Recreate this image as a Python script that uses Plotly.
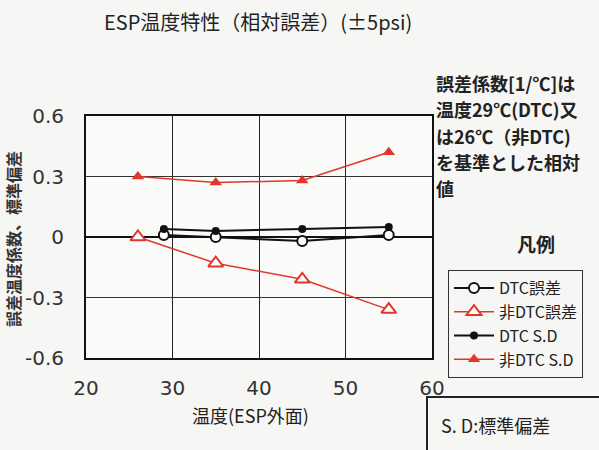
import plotly.graph_objects as go

# ---- data ----
x_dtc = [29, 35, 45, 55]
x_non = [26, 35, 45, 55]
dtc_err = [0.01, 0.00, -0.02, 0.01]
non_err = [0.00, -0.13, -0.21, -0.36]
dtc_sd = [0.04, 0.03, 0.04, 0.05]
non_sd = [0.30, 0.27, 0.28, 0.42]

x_ticks = [20, 30, 40, 50, 60]
y_ticks = [-0.6, -0.3, 0, 0.3, 0.6]
y_ticktext = ["-0.6", "-0.3", "0", "0.3", "0.6"]

names = ["DTC誤差", "非DTC誤差", "DTC S.D", "非DTC S.D"]
title_text = "ESP温度特性（相対誤差）(±5psi)"
xtitle = "温度(ESP外面)"
ytitle = "誤差温度係数、標準偏差"
note_lines = ["誤差係数[1/℃]は", "温度29℃(DTC)又", "は26℃（非DTC)", "を基準とした相対", "値"]
legend_title = "凡例"
sd_note = "S. D:標準偏差"

RED = "#e2362c"
JP = "Noto Sans CJK JP"

# plot area geometry (px)
L, R, T, B = 86, 432, 116, 358
W, H = 599, 450


def px(xp):
    return (xp - L) / (R - L)


def py(yp):
    return (B - yp) / (B - T)


fig = go.Figure()
fig.add_trace(go.Scatter(
    x=x_dtc, y=dtc_err, name=names[0], mode="lines+markers",
    line=dict(color="#111", width=2),
    marker=dict(symbol="circle", size=10, color="white",
                line=dict(color="#111", width=2))))
fig.add_trace(go.Scatter(
    x=x_non, y=non_err, name=names[1], mode="lines+markers",
    line=dict(color=RED, width=1.5),
    marker=dict(symbol="triangle-up", size=13, color="white",
                line=dict(color=RED, width=2))))
fig.add_trace(go.Scatter(
    x=x_dtc, y=dtc_sd, name=names[2], mode="lines+markers",
    line=dict(color="#111", width=2),
    marker=dict(symbol="circle", size=8, color="#111")))
fig.add_trace(go.Scatter(
    x=x_non, y=non_sd, name=names[3], mode="lines+markers",
    line=dict(color=RED, width=1.5),
    marker=dict(symbol="triangle-up", size=11, color=RED)))

ann = []
ann.append(dict(text=title_text, x=px(258), y=py(22), xref="paper", yref="paper",
                showarrow=False, font=dict(family=JP, size=20, color="#222"),
                xanchor="center", yanchor="middle"))
ann.append(dict(text=xtitle, x=px(250), y=py(415), xref="paper", yref="paper",
                showarrow=False, font=dict(family=JP, size=18, color="#222"),
                xanchor="center", yanchor="middle"))
ann.append(dict(text="<b>" + ytitle + "</b>", x=px(13), y=py(239), xref="paper", yref="paper",
                showarrow=False, textangle=-90, font=dict(family=JP, size=16, color="#333"),
                xanchor="center", yanchor="middle"))
line_y = [83, 109, 136, 162, 188]
for t, yy in zip(note_lines, line_y):
    ann.append(dict(text="<b>" + t + "</b>", x=px(434), y=py(yy), xref="paper", yref="paper",
                    showarrow=False, font=dict(family=JP, size=18, color="#222"),
                    xanchor="left", yanchor="middle"))
ann.append(dict(text="<b>" + legend_title + "</b>", x=px(536), y=py(243), xref="paper", yref="paper",
                showarrow=False, font=dict(family=JP, size=19, color="#222"),
                xanchor="center", yanchor="middle"))
ann.append(dict(text=sd_note, x=px(495), y=py(425), xref="paper", yref="paper",
                showarrow=False, font=dict(family=JP, size=18, color="#222"),
                xanchor="center", yanchor="middle"))

shapes = [dict(type="rect", xref="paper", yref="paper",
               x0=px(427), x1=px(640), y0=py(397), y1=py(480),
               line=dict(color="#222", width=2), fillcolor="rgba(0,0,0,0)")]

fig.update_layout(
    width=W, height=H,
    margin=dict(l=L, r=W - R, t=T, b=H - B),
    paper_bgcolor="#f6f6f4", plot_bgcolor="#fafaf9",
    showlegend=True,
    legend=dict(x=px(448), y=py(270), xanchor="left", yanchor="top",
                bordercolor="#333", borderwidth=1, bgcolor="rgba(0,0,0,0)",
                font=dict(family=JP, size=16, color="#222"),
                itemwidth=40, tracegroupgap=0),
    annotations=ann, shapes=shapes,
    xaxis=dict(range=[20, 60], tickvals=x_ticks, showgrid=True, gridcolor="#222", gridwidth=1,
               showline=True, linecolor="#111", linewidth=2, mirror=True, zeroline=False,
               ticks="", ticklabelstandoff=11,
               tickfont=dict(family="DejaVu Sans", size=20, color="#333")),
    yaxis=dict(range=[-0.6, 0.6], tickvals=y_ticks, ticktext=y_ticktext, showgrid=True,
               gridcolor="#333", gridwidth=1, zeroline=True, zerolinecolor="#111", zerolinewidth=1.5,
               showline=True, linecolor="#111", linewidth=2, mirror=True,
               ticks="", ticklabelstandoff=16,
               tickfont=dict(family="DejaVu Sans", size=20, color="#333")),
)

fig.write_html("out.html")
